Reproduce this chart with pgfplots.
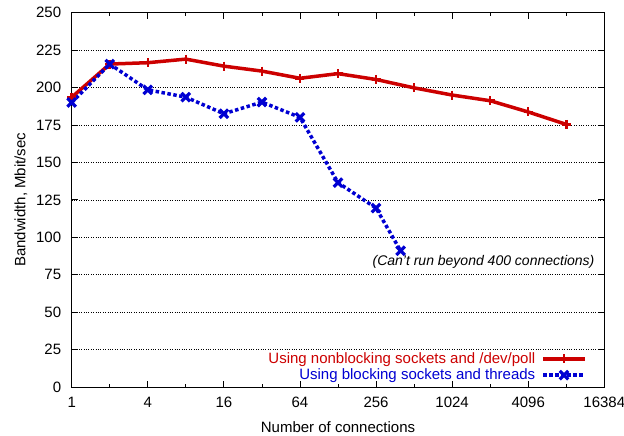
\documentclass[border=0pt]{standalone}
\usepackage{pgfplots}
\pgfplotsset{compat=1.18}
\usepackage{fontspec}
\setmainfont{Liberation Sans}
\definecolor{myred}{RGB}{204,0,0}
\definecolor{myblue}{RGB}{0,0,210}
\begin{document}
\begin{tikzpicture}[font=\fontsize{15bp}{18bp}\selectfont]
\begin{axis}[
  scale only axis, width=532.6bp, height=374.3bp,
  clip=false,
  xmode=log, log basis x=2,
  xmin=1, xmax=16384, ymin=0, ymax=250,
  xtick={1,4,16,64,256,1024,4096,16384},
  xticklabels={1,4,16,64,256,1024,4096,16384},
  extra x ticks={2,8,32,128,512,2048,8192},
  extra x tick labels={},
  extra x tick style={major tick length=3bp, grid=none},
  ytick={0,25,...,250},
  ymajorgrids,
  major grid style={black, dotted, line width=0.6bp},
  axis line style={line width=1bp},
  every tick/.style={black, line width=0.8bp},
  major tick length=6bp, minor tick length=3bp,
  /pgf/number format/assume math mode=true,
  xticklabel style={yshift=-7bp},
  yticklabel style={xshift=-7bp},
  xlabel={Number of connections},
  ylabel={Bandwidth, Mbit/sec},
  xlabel style={yshift=-7bp},
  ylabel style={yshift=2bp},
  legend style={at={(rel axis cs:0.973,0.004)}, anchor=south east, draw=none, fill=none,
    legend cell align=right, row sep=0bp, /tikz/every odd column/.style={column sep=4bp}},
  legend plot pos=right,
  legend image code/.code={\draw[mark repeat=2,mark phase=2] plot coordinates {(0cm,0cm) (0.74cm,0cm) (1.48cm,0cm)};},
]
\addplot[myred, line width=3.5bp, mark=+, mark size=4.5bp, mark options={solid, line width=2.5bp}]
coordinates {
(1,193.5) (2,215.7) (4,216.6) (8,219) (16,214.3) (32,211) (64,206.2) (128,209.3)
(256,205.4) (512,199.8) (1024,195) (2048,191.2) (4096,183.7) (8192,175.4)
};
\addlegendentry{\textcolor{myred}{Using nonblocking sockets and /dev/poll}}
\addplot[myblue, line width=3.5bp, dash pattern=on 3.5bp off 2.5bp, mark=x, mark size=6bp, mark options={solid, line width=3.2bp}]
coordinates {
(1,190) (2,215.7) (4,198.5) (8,193.6) (16,182.5) (32,190.3) (64,180.1) (128,136.5)
(256,119.5) (400,91)
};
\addlegendentry{\textcolor{myblue}{Using blocking sockets and threads}}
\node[anchor=east, font=\fontsize{14bp}{16bp}\selectfont\itshape] at (rel axis cs:0.988,0.334) {(Can't run beyond 400 connections)};
\coordinate (ll) at (rel axis cs:0,0);
\coordinate (ur) at (rel axis cs:1,1);
\end{axis}
\pgfresetboundingbox
\path ([shift={(-71.7bp,-49bp)}]ll) rectangle ([shift={(19.7bp,12.7bp)}]ur);
\end{tikzpicture}
\end{document}
